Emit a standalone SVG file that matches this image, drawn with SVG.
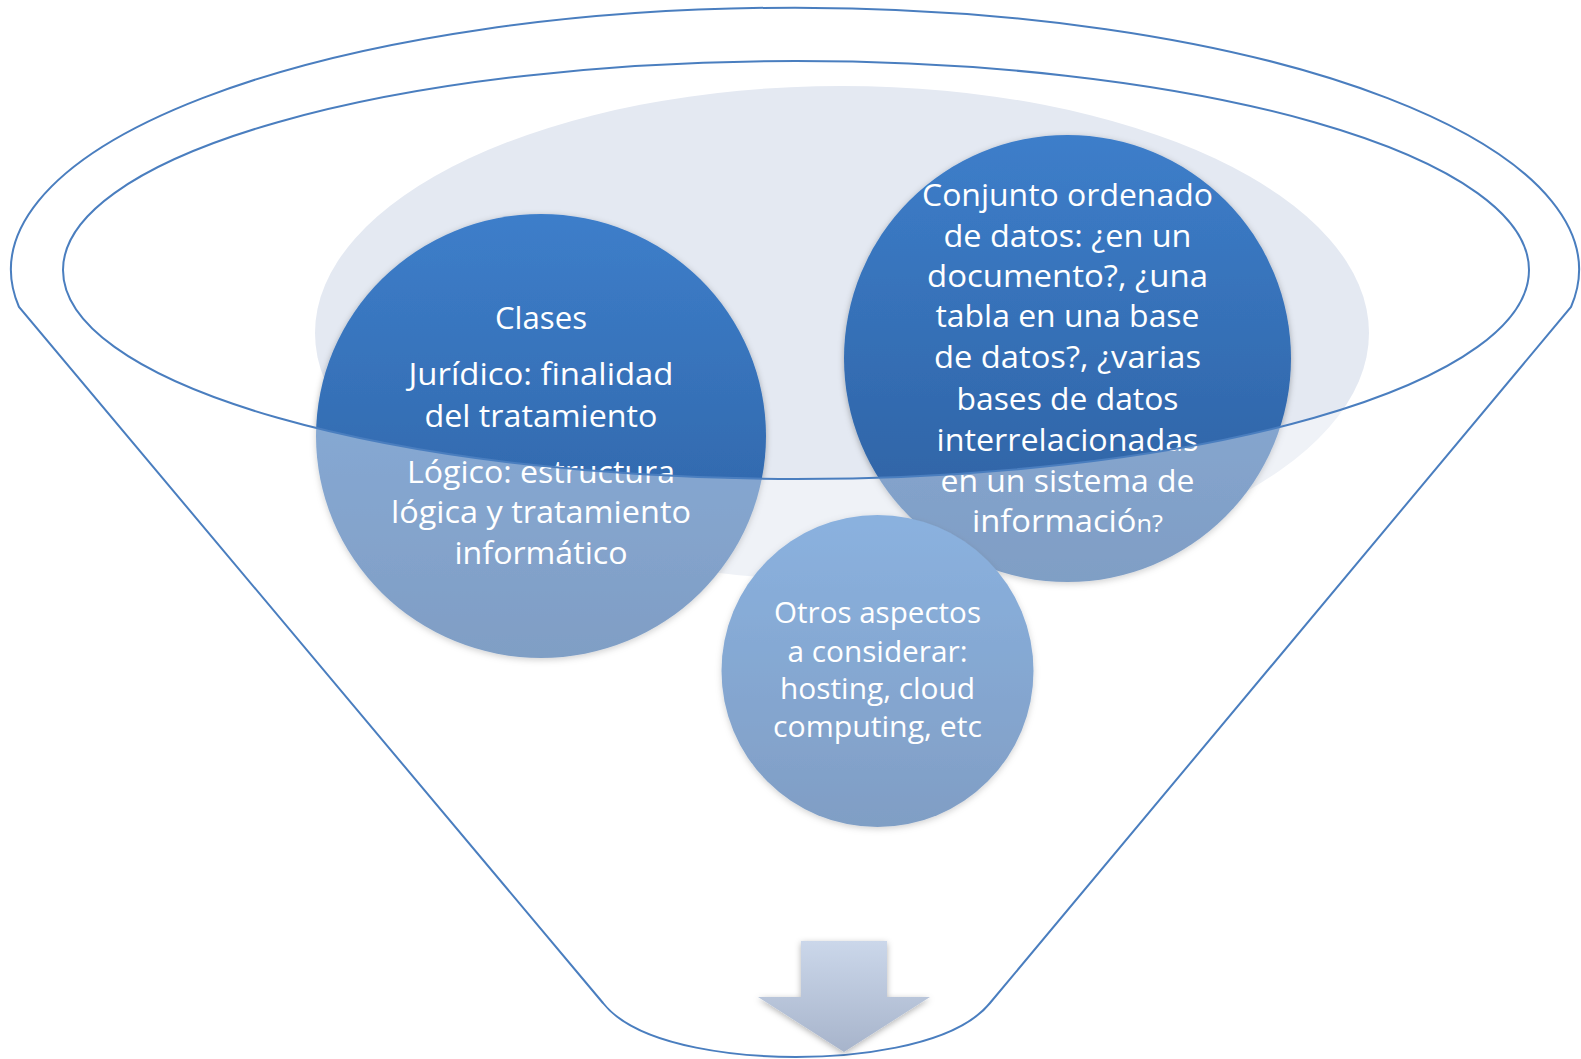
<svg xmlns="http://www.w3.org/2000/svg" width="1581" height="1059" viewBox="0 0 1581 1059">
  <defs>
    <linearGradient id="circGrad" x1="0" y1="0" x2="0" y2="1">
      <stop offset="0" stop-color="#3D7ECA"/>
      <stop offset="1" stop-color="#2C5E9E"/>
    </linearGradient>
    <linearGradient id="arrowGrad" x1="0" y1="0" x2="0" y2="1">
      <stop offset="0" stop-color="#CBD7EA"/>
      <stop offset="1" stop-color="#A7B4CB"/>
    </linearGradient>
    <filter id="shadow" x="-10%" y="-10%" width="120%" height="125%">
      <feDropShadow dx="0" dy="2" stdDeviation="3" flood-color="#000" flood-opacity="0.3"/>
    </filter>
    <style>
      .circle { fill: url(#circGrad); filter: url(#shadow); }
      .label { font-family: "Open Sans", "Liberation Sans", sans-serif; fill: #FFFFFF; text-anchor: middle; }
      .big { font-size: 31.5px; }
      .mid { font-size: 31px; }
      .small { font-size: 29px; }
      .outline { fill: none; stroke: #4A7EBF; stroke-width: 2; }
    </style>
  </defs>

  <rect x="0" y="0" width="1581" height="1059" fill="#FFFFFF"/>

  <!-- background ellipse of the funnel mouth -->
  <ellipse id="mouth" cx="842" cy="333" rx="527" ry="247" fill="#E4E9F2"/>

  <!-- node: Clases -->
  <g id="node-clases">
    <ellipse class="circle" cx="541" cy="436" rx="225" ry="222"/>
    <text class="label big" x="541" y="329" textLength="92" lengthAdjust="spacingAndGlyphs">Clases</text>
    <text class="label big" x="541" y="385" textLength="265" lengthAdjust="spacingAndGlyphs">Jurídico: finalidad</text>
    <text class="label big" x="541" y="427" textLength="233" lengthAdjust="spacingAndGlyphs">del tratamiento</text>
    <text class="label big" x="541" y="483" textLength="268" lengthAdjust="spacingAndGlyphs">Lógico: estructura</text>
    <text class="label big" x="541" y="523" textLength="300" lengthAdjust="spacingAndGlyphs">lógica y tratamiento</text>
    <text class="label big" x="541" y="564" textLength="173" lengthAdjust="spacingAndGlyphs">informático</text>
  </g>

  <!-- node: Conjunto ordenado de datos -->
  <g id="node-conjunto">
    <circle class="circle" cx="1067.5" cy="358.5" r="223.5"/>
    <text class="label mid" x="1067.5" y="206" textLength="291" lengthAdjust="spacingAndGlyphs">Conjunto ordenado</text>
    <text class="label mid" x="1067.5" y="247" textLength="248" lengthAdjust="spacingAndGlyphs">de datos: ¿en un</text>
    <text class="label mid" x="1067.5" y="287" textLength="281" lengthAdjust="spacingAndGlyphs">documento?, ¿una</text>
    <text class="label mid" x="1067.5" y="327" textLength="264" lengthAdjust="spacingAndGlyphs">tabla en una base</text>
    <text class="label mid" x="1067.5" y="368" textLength="267" lengthAdjust="spacingAndGlyphs">de datos?, ¿varias</text>
    <text class="label mid" x="1067.5" y="410" textLength="222" lengthAdjust="spacingAndGlyphs">bases de datos</text>
    <text class="label mid" x="1067.5" y="451" textLength="262" lengthAdjust="spacingAndGlyphs">interrelacionadas</text>
    <text class="label mid" x="1067.5" y="492" textLength="254" lengthAdjust="spacingAndGlyphs">en un sistema de</text>
    <text class="label mid" x="1067.5" y="532" textLength="191" lengthAdjust="spacingAndGlyphs">informació<tspan font-size="24px">n?</tspan></text>
  </g>

  <!-- node: Otros aspectos -->
  <g id="node-otros">
    <circle class="circle" cx="877.5" cy="671" r="156"/>
    <text class="label small" x="877.5" y="623" textLength="207" lengthAdjust="spacingAndGlyphs">Otros aspectos</text>
    <text class="label small" x="877.5" y="662" textLength="180" lengthAdjust="spacingAndGlyphs">a considerar:</text>
    <text class="label small" x="877.5" y="699" textLength="195" lengthAdjust="spacingAndGlyphs">hosting, cloud</text>
    <text class="label small" x="877.5" y="737" textLength="209" lengthAdjust="spacingAndGlyphs">computing, etc</text>
  </g>

  <!-- funnel body (translucent) and outlines -->
  <g id="funnel">
    <path fill="#FFFFFF" fill-opacity="0.4" fill-rule="evenodd"
      d="M19,307 A784,262 0 1 1 1571,307 L990,1003 C952,1050 842,1057 796,1057 C750,1057 640,1050 603,1003 Z
         M63,270 A733,209 0 1 0 1529,270 A733,209 0 1 0 63,270 Z"/>
    <path class="outline" d="M19,307 A784,262 0 1 1 1571,307 L990,1003 C952,1050 842,1057 796,1057 C750,1057 640,1050 603,1003 Z"/>
    <ellipse class="outline" cx="796" cy="270" rx="733" ry="209"/>
  </g>

  <!-- connectors -->
  <g id="connectors">
    <path id="arrow-down" d="M801,941 L887,941 L887,997 L930,997 L844,1052 L758,997 L801,997 Z" fill="url(#arrowGrad)" filter="url(#shadow)"/>
  </g>
</svg>
